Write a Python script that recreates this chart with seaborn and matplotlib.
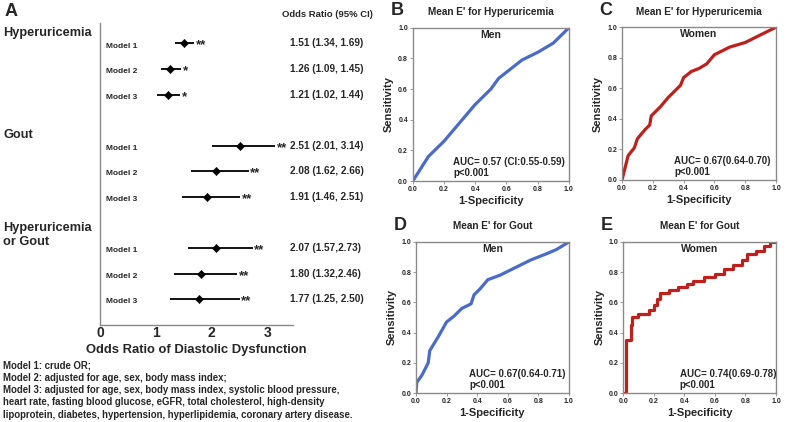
import matplotlib
matplotlib.use("Agg")
import matplotlib.pyplot as plt
import seaborn as sns

# ---- Panel A: forest plot data ----
groups = ["Hyperuricemia", "Gout", "Hyperuricemia\nor Gout"]
models = ["Model 1", "Model 2", "Model 3"]
or_est = [1.51, 1.26, 1.21, 2.51, 2.08, 1.91, 2.07, 1.80, 1.77]
ci_lo = [1.34, 1.09, 1.02, 2.01, 1.62, 1.46, 1.57, 1.32, 1.25]
ci_hi = [1.69, 1.45, 1.44, 3.14, 2.66, 2.51, 2.73, 2.46, 2.50]
ci_text = ["1.51 (1.34, 1.69)", "1.26 (1.09, 1.45)", "1.21 (1.02, 1.44)",
           "2.51 (2.01, 3.14)", "2.08 (1.62, 2.66)", "1.91 (1.46, 2.51)",
           "2.07 (1.57,2.73)", "1.80 (1.32,2.46)", "1.77 (1.25, 2.50)"]
stars = ["**", "*", "*", "**", "**", "**", "**", "**", "**"]
x_ticks = [0, 1, 2, 3]

footnote = ["Model 1: crude OR;",
            "Model 2: adjusted for age, sex, body mass index;",
            "Model 3: adjusted for age, sex, body mass index, systolic blood pressure,",
            "heart rate, fasting blood glucose, eGFR, total cholesterol, high-density",
            "lipoprotein, diabetes, hypertension, hyperlipidemia, coronary artery disease."]

# ---- ROC curves ----
b_fpr = [0, 0.05, 0.1, 0.15, 0.2, 0.25, 0.3, 0.35, 0.4, 0.45, 0.5, 0.55, 0.6, 0.65, 0.7, 0.8, 0.9, 1.0]
b_tpr = [0, 0.08, 0.16, 0.21, 0.26, 0.32, 0.38, 0.44, 0.50, 0.55, 0.60, 0.67, 0.71, 0.75, 0.79, 0.84, 0.90, 1.0]

c_fpr = [0, 0.02, 0.04, 0.08, 0.1, 0.15, 0.18, 0.19, 0.25, 0.3, 0.35, 0.38, 0.4, 0.45, 0.5, 0.55,
         0.6, 0.7, 0.8, 0.9, 1.0]
c_tpr = [0, 0.08, 0.16, 0.21, 0.27, 0.33, 0.36, 0.42, 0.48, 0.54, 0.59, 0.62, 0.67, 0.71, 0.73, 0.76,
         0.82, 0.87, 0.90, 0.95, 1.0]

d_fpr = [0, 0.005, 0.04, 0.08, 0.09, 0.12, 0.15, 0.2, 0.25, 0.3, 0.36, 0.38, 0.42, 0.47, 0.55, 0.65,
         0.75, 0.85, 0.92, 1.0]
d_tpr = [0, 0.07, 0.12, 0.2, 0.28, 0.33, 0.38, 0.47, 0.51, 0.56, 0.59, 0.65, 0.69, 0.75, 0.78, 0.83,
         0.88, 0.92, 0.95, 1.0]

e_fpr = [0, 0.02, 0.05, 0.06, 0.1, 0.17, 0.2, 0.22, 0.24, 0.3, 0.36, 0.42, 0.46, 0.53, 0.6, 0.66,
         0.72, 0.78, 0.81, 0.87, 0.92, 0.96, 1.0]
e_tpr = [0, 0.35, 0.45, 0.5, 0.52, 0.55, 0.58, 0.62, 0.66, 0.68, 0.70, 0.72, 0.74, 0.77, 0.79, 0.82,
         0.85, 0.88, 0.92, 0.94, 0.97, 1.0, 1.0]

roc_ticks = [0.0, 0.2, 0.4, 0.6, 0.8, 1.0]

BLUE = "#4a6cc8"
RED = "#c0201c"
GREY = "#8a8a8a"

sns.set_style("white")
plt.rcParams["font.family"] = ["Liberation Sans", "DejaVu Sans"]
plt.rcParams["font.weight"] = "bold"

fig = plt.figure(figsize=(8, 4.22), dpi=100)

# ---------------- Panel A ----------------
ax = fig.add_axes([0.125, 0.230, 0.241, 0.7155])
rows = [g * 4 + m for g in range(len(groups)) for m in range(len(models))]

ax.hlines(rows, ci_lo, ci_hi, color="black", lw=1.3)
sns.scatterplot(x=or_est, y=rows, marker="D", s=18, color="black",
                edgecolor="black", ax=ax, zorder=3)

ytrans = ax.get_yaxis_transform()
for i, (r, hi, st, txt) in enumerate(zip(rows, ci_hi, stars, ci_text)):
    ax.text(hi + 0.03, r + 0.08, st, fontsize=9.5, fontweight="bold", va="center", ha="left")
    ax.text(0.03, r + 0.1, models[i % 3], transform=ytrans,
            fontsize=6, fontweight="bold", va="center", ha="left")
    ax.text(0.985, r, txt, transform=ytrans, fontsize=7.2, fontweight="bold",
            va="center", ha="left", clip_on=False)

ax.set_xlim(0, 3.45)
ax.set_ylim(11.0, -0.8)
ax.set_xticks(x_ticks)
ax.set_xticklabels([str(t) for t in x_ticks], fontsize=10, fontweight="bold")
ax.set_yticks([])
ax.tick_params(axis="x", length=0, pad=1)
for side in ["top", "right"]:
    ax.spines[side].set_visible(False)
for side in ["left", "bottom"]:
    ax.spines[side].set_color(GREY)
    ax.spines[side].set_linewidth(1.0)

ax.set_xlabel("Odds Ratio of Diastolic Dysfunction", fontsize=9.4, fontweight="bold", labelpad=3)

fig.text(0.006, 0.972, "A", fontsize=13, fontweight="bold", va="center", ha="left")
fig.text(0.352, 0.965, "Odds Ratio (95% CI)", fontsize=6.8, fontweight="bold", va="center", ha="left")
fig.text(0.004, 1 - 33 / 422, groups[0], fontsize=9.2, fontweight="bold", va="center", ha="left")
fig.text(0.004, 1 - 135 / 422, groups[1], fontsize=9.2, fontweight="bold", va="center", ha="left")
fig.text(0.004, 1 - 235 / 422, groups[2], fontsize=9.2, fontweight="bold", va="center", ha="left",
         linespacing=1.15)

for k, line in enumerate(footnote):
    fig.text(0.004, 1 - (365.5 + 12.3 * k) / 422, line, fontsize=6.9, fontweight="bold",
             va="center", ha="left")


# ---------------- ROC panels ----------------
def roc_panel(rect, fpr, tpr, color, letter, title, sub, auc_text, auc_x, steps=False):
    a = fig.add_axes(rect)
    sns.lineplot(x=fpr, y=tpr, sort=False, estimator=None, color=color, lw=2.3,
                 drawstyle="steps-post" if steps else "default", ax=a)
    a.set_xlim(0, 1)
    a.set_ylim(0, 1)
    a.set_xticks(roc_ticks)
    a.set_yticks(roc_ticks)
    a.set_xticklabels([f"{t:.1f}" for t in roc_ticks], fontsize=5, fontweight="bold")
    a.set_yticklabels([f"{t:.1f}" for t in roc_ticks], fontsize=5, fontweight="bold")
    a.tick_params(length=2, width=0.6, pad=1.5, color=GREY, left=True, bottom=True)
    for s in a.spines.values():
        s.set_color(GREY)
        s.set_linewidth(1.0)
    a.set_xlabel("1-Specificity", fontsize=8, fontweight="bold", labelpad=2)
    a.set_ylabel("Sensitivity", fontsize=8, fontweight="bold", labelpad=3)
    a.set_title(title, fontsize=7.2, fontweight="bold", pad=9)
    a.text(0.5, 0.955, sub, fontsize=7.5, fontweight="bold", ha="center", va="center")
    a.text(auc_x, 0.125, auc_text, fontsize=7, fontweight="bold", ha="left", va="center")
    a.text(auc_x, 0.05, "p<0.001", fontsize=7, fontweight="bold", ha="left", va="center")
    bb = a.get_position()
    fig.text(bb.x0 - 0.028, bb.y1 + 0.04, letter, fontsize=13, fontweight="bold",
             ha="left", va="center")
    return a


roc_panel([0.516, 0.571, 0.195, 0.363], b_fpr, b_tpr, BLUE, "B",
          "Mean E' for Hyperuricemia", "Men", "AUC= 0.57 (CI:0.55-0.59)", 0.26)
roc_panel([0.7775, 0.5735, 0.1925, 0.362], c_fpr, c_tpr, RED, "C",
          "Mean E' for Hyperuricemia", "Women", "AUC= 0.67(0.64-0.70)", 0.34)
roc_panel([0.52, 0.0687, 0.191, 0.358], d_fpr, d_tpr, BLUE, "D",
          "Mean E' for Gout", "Men", "AUC= 0.67(0.64-0.71)", 0.35)
roc_panel([0.779, 0.0687, 0.191, 0.358], e_fpr, e_tpr, RED, "E",
          "Mean E' for Gout", "Women", "AUC= 0.74(0.69-0.78)", 0.37, steps=True)

fig.savefig("out.png", dpi=100)
